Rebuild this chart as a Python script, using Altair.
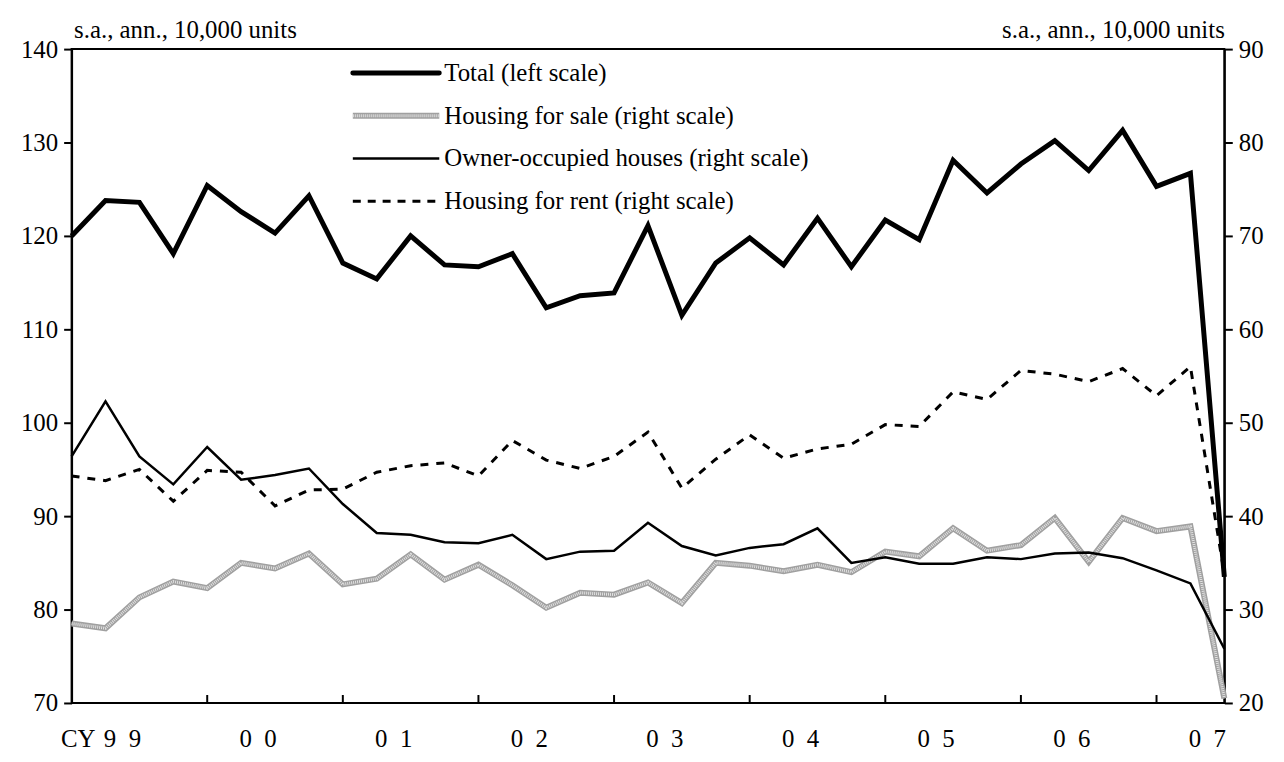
import altair as alt
import pandas as pd

# ---- data, quarterly CY1999Q1 .. CY2007Q3 ----
total = [120.0, 123.8, 123.6, 118.1, 125.4, 122.6, 120.3, 124.3, 117.1, 115.4,
         120.0, 116.9, 116.7, 118.1, 112.3, 113.6, 113.9, 121.1, 111.5, 117.1,
         119.8, 116.9, 121.9, 116.7, 121.7, 119.6, 128.1, 124.6, 127.7, 130.2,
         127.0, 131.3, 125.3, 126.7, 83.5]
for_sale = [28.5, 28.0, 31.3, 33.0, 32.3, 35.0, 34.4, 36.0, 32.7, 33.3,
            35.9, 33.2, 34.8, 32.6, 30.2, 31.8, 31.6, 32.9, 30.7, 35.0,
            34.7, 34.1, 34.8, 34.0, 36.2, 35.7, 38.7, 36.3, 36.9, 39.8,
            35.1, 39.8, 38.4, 38.9, 20.5]
owner = [46.4, 52.3, 46.4, 43.4, 47.4, 43.9, 44.4, 45.1, 41.3, 38.2,
         38.0, 37.2, 37.1, 38.0, 35.4, 36.2, 36.3, 39.3, 36.8, 35.8,
         36.6, 37.0, 38.7, 35.0, 35.6, 34.9, 34.9, 35.6, 35.4, 36.0,
         36.1, 35.5, 34.2, 32.8, 25.8]
for_rent = [44.3, 43.8, 45.0, 41.6, 44.9, 44.7, 41.1, 42.8, 42.9, 44.7,
            45.4, 45.7, 44.3, 48.1, 46.0, 45.1, 46.4, 49.0, 43.0, 46.1,
            48.7, 46.2, 47.2, 47.7, 49.8, 49.6, 53.3, 52.5, 55.6, 55.2,
            54.4, 55.8, 52.9, 56.0, 33.8]
NB = "\u00a0\u00a0"
year_labels = ["9" + NB + "9", "0" + NB + "0", "0" + NB + "1", "0" + NB + "2", "0" + NB + "3",
               "0" + NB + "4", "0" + NB + "5", "0" + NB + "6", "0" + NB + "7"]
legend_labels = ["Total (left scale)", "Housing for sale (right scale)",
                 "Owner-occupied houses (right scale)", "Housing for rent (right scale)"]
left_ticks = [70, 80, 90, 100, 110, 120, 130, 140]
right_ticks = [20, 30, 40, 50, 60, 70, 80, 90]
y_title = "s.a., ann., 10,000 units"

n = len(total)
df = pd.DataFrame({"q": list(range(n)), "total": total, "sale": for_sale,
                   "owner": owner, "rent": for_rent})
W, H = 1160, 658
FONT = "Liberation Serif"
FS = 25

xs = alt.X("q:Q", scale=alt.Scale(domain=[0, n - 1], nice=False, zero=False), axis=None)

axis_style = dict(grid=False, labelFont=FONT, labelFontSize=FS, labelColor="black",
                  titleFont=FONT, titleFontSize=FS, titleColor="black", titleFontWeight="normal",
                  domainColor="black", domainWidth=2, tickColor="black", tickWidth=2,
                  tickSize=8, labelPadding=6, titleAngle=0, titleY=-12,
                  titleBaseline="alphabetic")
left_axis = alt.Axis(values=left_ticks, title=y_title, titleX=2, titleAlign="left",
                     orient="left", **axis_style)
right_axis = alt.Axis(values=right_ticks, title=y_title, titleX=0, titleAlign="right",
                      orient="right", **axis_style)

base = alt.Chart(df)
total_line = base.mark_line(color="black", strokeWidth=5, strokeJoin="miter").encode(
    x=xs, y=alt.Y("total:Q", scale=alt.Scale(domain=[70, 140], nice=False, zero=False), axis=left_axis))

ry = alt.Scale(domain=[20, 90], nice=False, zero=False)
sale_a = base.mark_line(color="#a0a0a0", strokeWidth=6).encode(
    x=xs, y=alt.Y("sale:Q", scale=ry, axis=right_axis))
sale_b = base.mark_line(color="#e2e2e2", strokeWidth=3, strokeDash=[1, 1]).encode(
    x=xs, y=alt.Y("sale:Q", scale=ry))
owner_line = base.mark_line(color="black", strokeWidth=2.5).encode(
    x=xs, y=alt.Y("owner:Q", scale=ry))
rent_line = base.mark_line(color="black", strokeWidth=3, strokeDash=[8, 8]).encode(
    x=xs, y=alt.Y("rent:Q", scale=ry))
right_layer = alt.layer(rent_line, sale_a, sale_b, owner_line)

# bottom year ticks (inward) and labels
tick_df = pd.DataFrame({"q": [4 * j for j in range(1, len(year_labels))]})
year_ticks = alt.Chart(tick_df).mark_rule(color="black", strokeWidth=2).encode(
    x=xs, y=alt.value(H), y2=alt.value(H - 8))
lab_df = pd.DataFrame({"q": [1.5 + 4 * j for j in range(len(year_labels))], "lab": year_labels})
year_text = alt.Chart(lab_df).mark_text(font=FONT, fontSize=FS, color="black",
                                        baseline="middle", align="center").encode(
    x=xs, y=alt.value(H + 36), text="lab:N")
cy_text = alt.Chart(pd.DataFrame({"t": ["CY"]})).mark_text(
    font=FONT, fontSize=FS, color="black", baseline="middle", align="right").encode(
    x=alt.value(24), y=alt.value(H + 36), text="t:N")

# manual legend
lx0, lx1, ltx = 283, 370, 375
ly = [24, 67, 110, 153]
one = pd.DataFrame({"a": [0]})
leg = []
leg.append(alt.Chart(one).mark_rule(color="black", strokeWidth=5, strokeCap="round").encode(
    x=alt.value(lx0), x2=alt.value(lx1), y=alt.value(ly[0])))
leg.append(alt.Chart(one).mark_rule(color="#a0a0a0", strokeWidth=6).encode(
    x=alt.value(lx0), x2=alt.value(lx1), y=alt.value(ly[1])))
leg.append(alt.Chart(one).mark_rule(color="#e2e2e2", strokeWidth=3, strokeDash=[1, 1]).encode(
    x=alt.value(lx0), x2=alt.value(lx1), y=alt.value(ly[1])))
leg.append(alt.Chart(one).mark_rule(color="black", strokeWidth=2.5).encode(
    x=alt.value(lx0), x2=alt.value(lx1), y=alt.value(ly[2])))
leg.append(alt.Chart(one).mark_rule(color="black", strokeWidth=3, strokeDash=[8, 7]).encode(
    x=alt.value(lx0), x2=alt.value(lx1), y=alt.value(ly[3])))
for i, lab in enumerate(legend_labels):
    leg.append(alt.Chart(pd.DataFrame({"t": [lab]})).mark_text(
        font=FONT, fontSize=FS, color="black", align="left", baseline="middle").encode(
        x=alt.value(ltx), y=alt.value(ly[i]), text="t:N"))

extras = alt.layer(year_ticks, year_text, cy_text, *leg)

chart = alt.layer(total_line, right_layer, extras).resolve_scale(y="independent").properties(
    width=W, height=H,
    background="white",
    autosize=alt.AutoSizeParams(type="none"),
    padding={"left": 64, "top": 39, "right": 52, "bottom": 50},
).configure_view(stroke="black", strokeWidth=2)

chart.save("out.html", embed_options={"renderer": "svg", "actions": False})
